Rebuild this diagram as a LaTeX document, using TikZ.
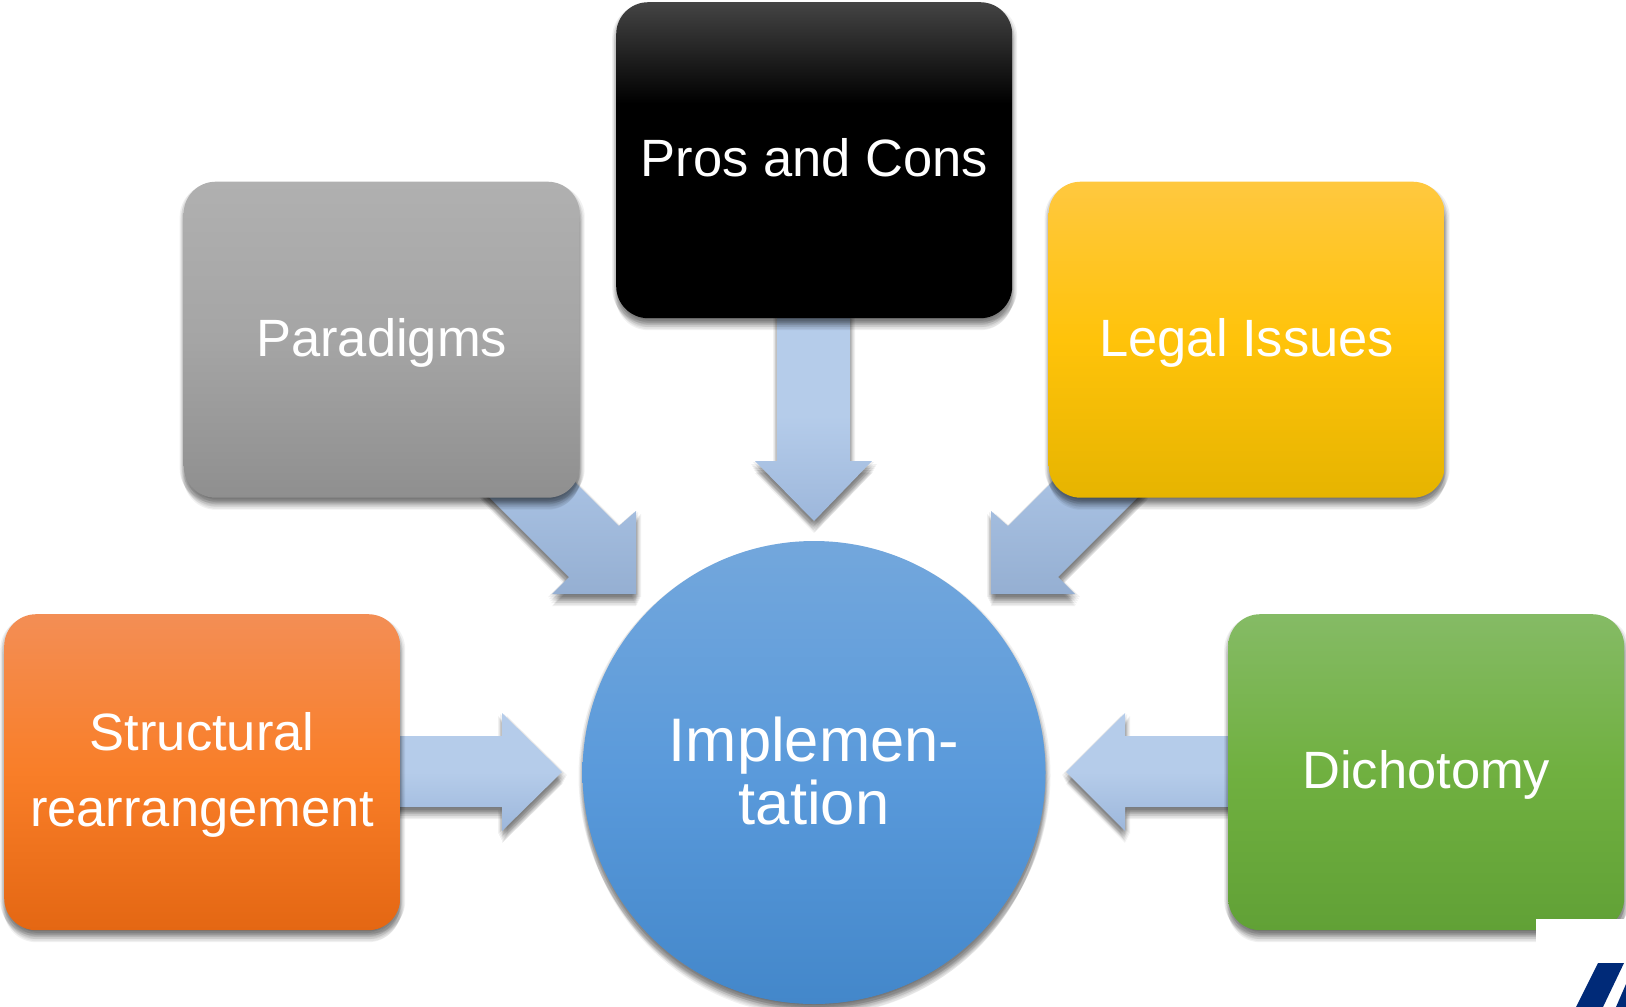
\documentclass[tikz,border=0pt]{standalone}
\usepackage{fontspec}
\setmainfont{Liberation Sans}
\usetikzlibrary{calc}
\definecolor{gy1}{HTML}{8F8F8F}\definecolor{gy2}{HTML}{A5A5A5}\definecolor{gy3}{HTML}{B0B0B0}
\definecolor{bk1}{HTML}{444444}\definecolor{bk2}{HTML}{000000}
\definecolor{ye1}{HTML}{E6B400}\definecolor{ye2}{HTML}{FFC30A}\definecolor{ye3}{HTML}{FFC83F}
\definecolor{or1}{HTML}{E46713}\definecolor{or2}{HTML}{F97E28}\definecolor{or3}{HTML}{F38E55}
\definecolor{gr1}{HTML}{61A136}\definecolor{gr2}{HTML}{70B040}\definecolor{gr3}{HTML}{85BB65}
\definecolor{bl1}{HTML}{4387CA}\definecolor{bl2}{HTML}{5A9ADB}\definecolor{bl3}{HTML}{73A7DC}
\definecolor{ar1}{HTML}{9DB7DB}\definecolor{ar2}{HTML}{B5CCEA}
\definecolor{ad1}{HTML}{95AFD2}\definecolor{ad2}{HTML}{AAC3E4}
\definecolor{logoblue}{HTML}{002A78}
\pgfdeclareverticalshading{shgray}{100bp}{color(0bp)=(gy1);color(25bp)=(gy1);color(50bp)=(gy2);color(75bp)=(gy3);color(100bp)=(gy3)}
\pgfdeclareverticalshading{shblack}{100bp}{color(0bp)=(bk2);color(59bp)=(bk2);color(75bp)=(bk1);color(100bp)=(bk1)}
\pgfdeclareverticalshading{shyellow}{100bp}{color(0bp)=(ye1);color(25bp)=(ye1);color(50bp)=(ye2);color(75bp)=(ye3);color(100bp)=(ye3)}
\pgfdeclareverticalshading{shorange}{100bp}{color(0bp)=(or1);color(25bp)=(or1);color(50bp)=(or2);color(75bp)=(or3);color(100bp)=(or3)}
\pgfdeclareverticalshading{shgreen}{100bp}{color(0bp)=(gr1);color(25bp)=(gr1);color(50bp)=(gr2);color(75bp)=(gr3);color(100bp)=(gr3)}
\pgfdeclareverticalshading{shblue}{100bp}{color(0bp)=(bl1);color(25bp)=(bl1);color(50bp)=(bl2);color(75bp)=(bl3);color(100bp)=(bl3)}
\pgfdeclareverticalshading{sharrow}{100bp}{color(0bp)=(ar1);color(25bp)=(ar1);color(50bp)=(ar2);color(100bp)=(ar2)}
\pgfdeclareverticalshading{shdiag}{100bp}{color(0bp)=(ad1);color(25bp)=(ad1);color(75bp)=(ad2);color(100bp)=(ad2)}
\tikzset{
  softlayer/.style 2 args={preaction={fill=black,opacity=.055,transform canvas={xshift=#1pt,yshift=-#2pt}}},
  softshadow/.style={
    softlayer={5}{3},softlayer={-4}{3},softlayer={4}{5},softlayer={-3}{5},
    softlayer={3}{7},softlayer={-2}{7},softlayer={2}{9},softlayer={-1}{9},
    softlayer={1}{11},softlayer={0}{12},softlayer={2}{1},softlayer={-2}{1},softlayer={1}{4},softlayer={0}{6}},
  tilebox/.style={softshadow,rounded corners=32pt,minimum width=396pt,minimum height=316pt,
     inner sep=0pt,text=white,align=center,font=\fontsize{52.5}{76}\selectfont,
     text height=38pt,text depth=4.8pt},
  blockarrow/.style={softshadow,shading=sharrow},
  diagarrow/.style={softshadow,shading=shdiag},
}
\begin{document}
\begin{tikzpicture}[x=1pt,y=-1pt]
\useasboundingbox (0,0) rectangle (1626,1007);
% block arrows, behind the tiles
\path[blockarrow] (390,736) -- (502,736) -- (502,713) -- (562,772) -- (502,831) -- (502,807) -- (390,807) -- cycle;
\path[blockarrow] (1238,736) -- (1125,736) -- (1125,713) -- (1066,772) -- (1125,831) -- (1125,807) -- (1238,807) -- cycle;
\path[blockarrow] (777,310) -- (850,310) -- (850,461) -- (872,461) -- (814,521) -- (755,461) -- (777,461) -- cycle;
\path[diagarrow] (619,526) -- (636,511) -- (636,594) -- (552,594) -- (569,577) -- (480,488) -- (564,471) -- cycle;
\path[diagarrow] (1008,526) -- (991,511) -- (991,594) -- (1075,594) -- (1058,577) -- (1147,488) -- (1063,471) -- cycle;
% tiles
\node[tilebox,shading=shblack,anchor=north west] (pros) at (616,2) {Pros and Cons};
\node[tilebox,shading=shgray,anchor=north west] (para) at (183.5,181.5) {Paradigms};
\node[tilebox,shading=shyellow,anchor=north west] (legal) at (1048.5,181.5) {Legal Issues};
\node[tilebox,shading=shorange,anchor=north west,text height=120pt,text depth=11pt] (struct) at (4,614) {Structural\\rearrangement};
\node[tilebox,shading=shgreen,anchor=north west] (dicho) at (1228,614) {Dichotomy};
% centre
\node[softshadow,circle,shading=shblue,minimum size=463pt,inner sep=0pt,text=white,align=center,
  font=\fontsize{61.5}{63}\selectfont,text height=104pt,text depth=0pt] (impl) at (814,772.5) {Implemen-\\tation};
% corner patch with logo fragment
\fill[white] (1536,919) rectangle (1626,1007);
\fill[logoblue] (1598,963) -- (1624,963) -- (1603,1007) -- (1576,1007) -- cycle;
\fill[logoblue] (1626,984) -- (1626,1007) -- (1616,1007) -- cycle;
\end{tikzpicture}
\end{document}
